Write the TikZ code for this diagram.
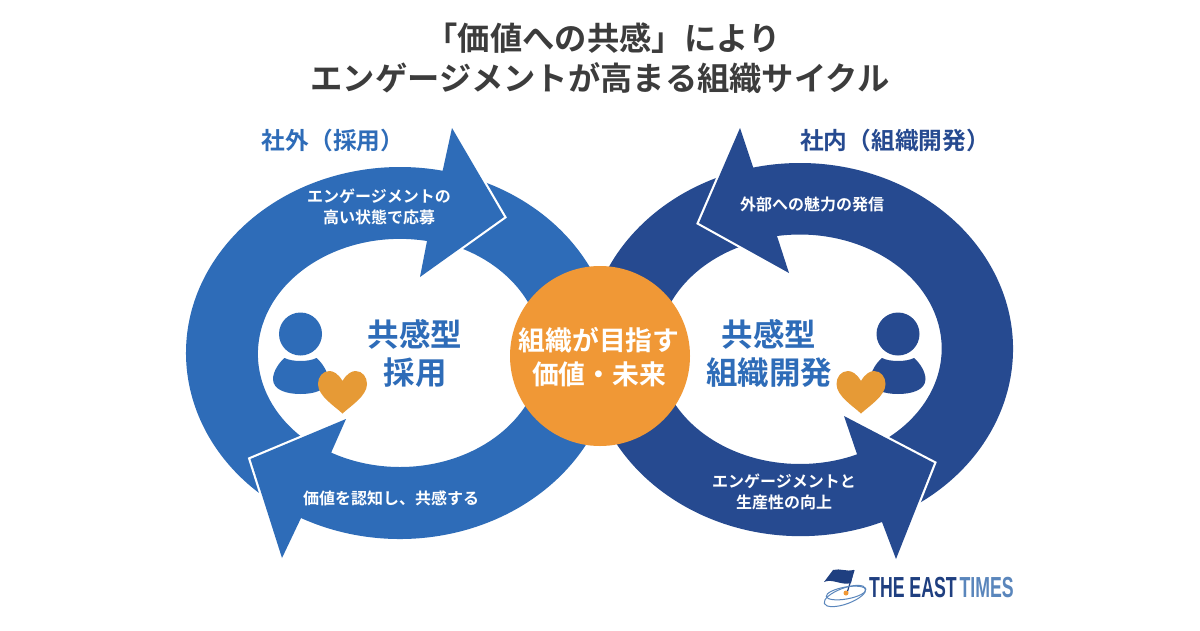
\documentclass[tikz,border=0pt]{standalone}
\usepackage{fontspec}
\usetikzlibrary{calc}
\setmainfont{Noto Sans CJK JP Bold}
\newfontfamily\logofont[FakeStretch=0.61,BoldFont={Liberation Sans Bold}]{Liberation Sans}
\definecolor{leftblue}{HTML}{2E6CB8}
\definecolor{rightblue}{HTML}{264A90}
\definecolor{coreorange}{HTML}{F09836}
\definecolor{heartorange}{HTML}{E69A36}
\definecolor{titlegray}{HTML}{3C3C3C}
\definecolor{logoblue}{HTML}{5A86BC}
\definecolor{logonavy}{HTML}{1F3F80}
\tikzset{
  txt/.style={inner sep=0pt,align=center},
  arrowbody/.style={preaction={draw=white,line width=4.4pt,miter limit=20},line join=miter},
}
\begin{document}
\begin{tikzpicture}[x=1pt,y=1pt,yscale=-1]
\useasboundingbox (0,0) rectangle (1200,630);
\fill[white] (0,0) rectangle (1200,630);
% left ring: top piece
\fill[leftblue] (400,353) ++(-72:214pt and 186pt)
  arc[start angle=-72,end angle=-15,x radius=214pt,y radius=186pt]
  -- ($(400,352)+(-15:142pt and 115pt)$)
  arc[start angle=-15,end angle=-70,x radius=142pt,y radius=115pt] -- cycle;
% left ring: upper arrow
\fill[leftblue,arrowbody] (400,353) ++(125:214pt and 186pt)
  arc[start angle=125,end angle=281.5,x radius=214pt,y radius=186pt]
  -- (452,128) -- (504,217) -- (420,277) -- (427,241)
  arc[start angle=281,end angle=125,x radius=142pt,y radius=115pt] -- cycle;
% left ring: lower arrow
\fill[leftblue,arrowbody] (346,419) -- (250.5,459) -- (282,558) -- (301,518)
  arc[start angle=117.5,end angle=15,x radius=214pt,y radius=186pt]
  -- ($(400,352)+(15:142pt and 115pt)$)
  arc[start angle=15,end angle=119,x radius=142pt,y radius=115pt] -- cycle;
% right ring: top piece
\fill[rightblue] (800,349) ++(-108:213pt and 186pt)
  arc[start angle=-108,end angle=-165,x radius=213pt,y radius=186pt]
  -- ($(800,350)+(-165:142pt and 114pt)$)
  arc[start angle=-165,end angle=-108,x radius=142pt,y radius=114pt] -- cycle;
% right ring: upper arrow
\fill[rightblue,arrowbody] (753,167) -- (740,128) -- (699,223) -- (789,273) -- (777,236)
  arc[start angle=-99.2,end angle=57,x radius=142pt,y radius=114pt]
  -- ($(800,349)+(62:213pt and 186pt)$)
  arc[start angle=62,end angle=-102.7,x radius=213pt,y radius=186pt] -- cycle;
% right ring: lower arrow
\fill[rightblue,arrowbody] (844,416) -- (934,463) -- (896,559) -- (882,522)
  arc[start angle=67.5,end angle=165,x radius=213pt,y radius=186pt]
  -- ($(800,350)+(165:142pt and 114pt)$)
  arc[start angle=165,end angle=66.3,x radius=142pt,y radius=114pt] -- cycle;
% centre
\node[circle,fill=coreorange,minimum size=180pt,inner sep=0pt] (core) at (600,356) {};
% people
\foreach \cx/\col in {300.5/leftblue,898/rightblue}{
  \fill[\col] (\cx,334) circle[radius=21.5pt];
  \fill[\col] (\cx-16,358) .. controls (\cx-8,362) and (\cx+8,362) .. (\cx+16,358)
    .. controls (\cx+22,363) and (\cx+27.5,372) .. (\cx+27.5,379)
    .. controls (\cx+27.5,390) and (\cx+14,394) .. (\cx,394)
    .. controls (\cx-14,394) and (\cx-27.5,390) .. (\cx-27.5,379)
    .. controls (\cx-27.5,372) and (\cx-22,363) .. (\cx-16,358) -- cycle;
}
% hearts
\foreach \hx in {342.5,861}{
  \fill[heartorange] (\hx,381)
    .. controls (\hx+4,374) and (\hx+9,371) .. (\hx+13,371)
    .. controls (\hx+20,371) and (\hx+24.5,377) .. (\hx+24.5,384)
    .. controls (\hx+24.5,396) and (\hx+8,406) .. (\hx,413.5)
    .. controls (\hx-8,406) and (\hx-24.5,396) .. (\hx-24.5,384)
    .. controls (\hx-24.5,377) and (\hx-20,371) .. (\hx-13,371)
    .. controls (\hx-9,371) and (\hx-4,374) .. (\hx,381) -- cycle;
}
% title
\node[txt,text=titlegray,font=\fontsize{32.3}{32}\selectfont] (t1) at (603,38) {「価値への共感」により};
\node[txt,text=titlegray,font=\fontsize{32.3}{32}\selectfont] (t2) at (600,78) {エンゲージメントが高まる組織サイクル};
% section labels
\node[txt,text=leftblue,font=\fontsize{23.7}{23}\selectfont] (l1) at (333,140) {社外（採用）};
\node[txt,text=rightblue,font=\fontsize{23.7}{23}\selectfont] (l2) at (895,140) {社内（組織開発）};
% arrow labels
\node[txt,text=white,font=\fontsize{16}{21}\selectfont] (a1) at (379,206.5) {エンゲージメントの\\高い状態で応募};
\node[txt,text=white,font=\fontsize{16}{21}\selectfont] (a2) at (391,498) {価値を認知し、共感する};
\node[txt,text=white,font=\fontsize{16}{21}\selectfont] (a3) at (812,204) {外部への魅力の発信};
\node[txt,text=white,font=\fontsize{16}{21}\selectfont] (a4) at (784,491.5) {エンゲージメントと\\生産性の向上};
% inner labels
\node[txt,text=leftblue,font=\fontsize{31.5}{38}\selectfont] (i1) at (415,353) {共感型\\採用};
\node[txt,text=leftblue,font=\fontsize{31.5}{38}\selectfont] (i2) at (769,353) {共感型\\組織開発};
% centre label
\node[txt,text=white,font=\fontsize{26.8}{34}\selectfont] (c1) at (599,357) {組織が目指す\\価値・未来};
% logo
\fill[logonavy] (824,582) .. controls (832,578) and (842,586) .. (851,583) -- (854,570) .. controls (847,572) and (840,568) .. (833,570) -- cycle;
\draw[logonavy,line width=1.2pt] (854,570) -- (847,593);
\draw[logoblue,line width=1pt,rotate around={-10:(846,593)}] (846,593) ellipse[x radius=20pt,y radius=6pt];
\draw[logoblue,line width=1pt,rotate around={-20:(845,596)}] (845,596) ellipse[x radius=22pt,y radius=8pt];
\fill[coreorange] (846,593) circle[radius=2.5pt];
\node[txt,anchor=west,font=\logofont\bfseries\fontsize{29}{29}\selectfont] (logo) at (869,587.5) {\textcolor{logonavy}{THE EAST}\hspace{3pt}\textcolor{logoblue}{TIMES}};
\end{tikzpicture}
\end{document}
